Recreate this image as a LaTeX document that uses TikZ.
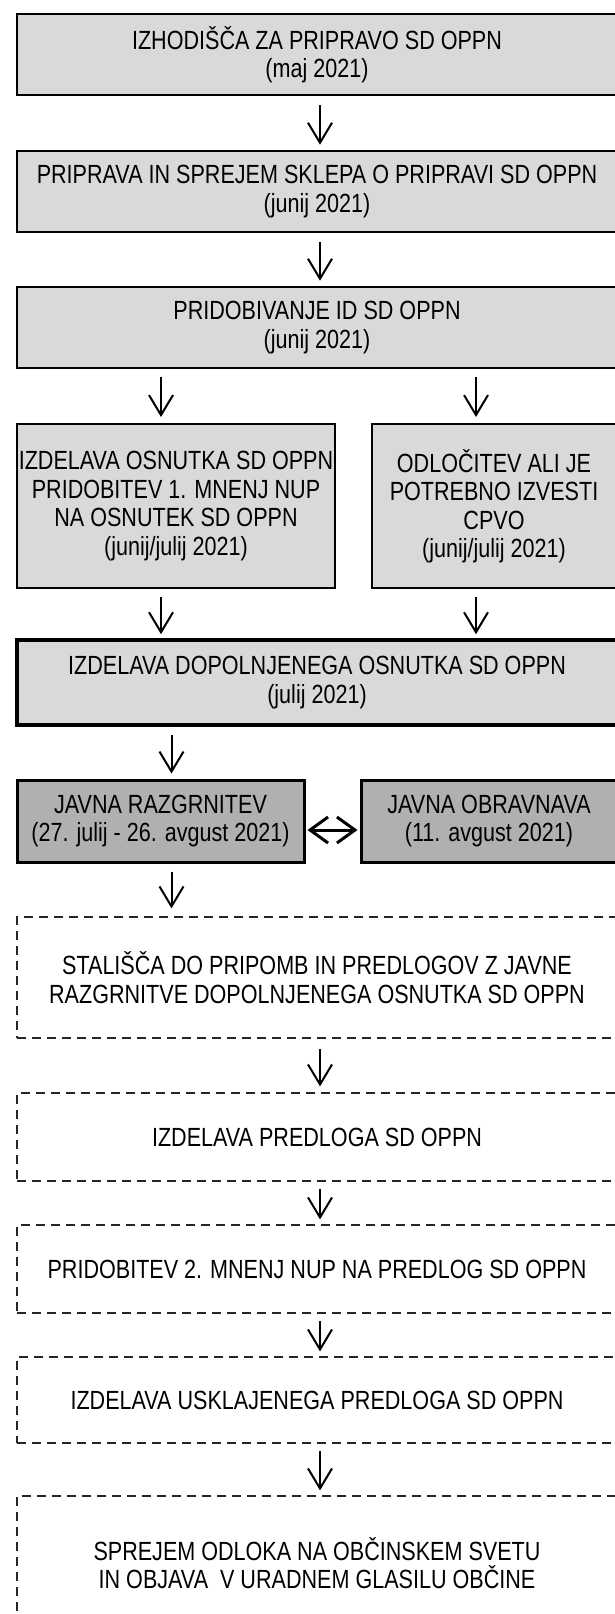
\documentclass[tikz,border=0pt]{standalone}
\usepackage{fontspec}
\setmainfont{Liberation Sans}[FakeStretch=0.82]
\usetikzlibrary{arrows.meta}

\begin{document}
\begin{tikzpicture}[x=1pt,y=-1pt,
	every node/.style={font=\fontsize{26.3}{28.5}\selectfont,align=center,inner sep=0pt},
	box/.style={draw,line width=2.6pt,fill=black!15},
	darkbox/.style={draw,line width=3pt,fill=black!31},
	dbox/.style={draw=black!85,line width=1.2pt,dash pattern=on 9pt off 6pt},
	arr/.style={line width=2pt,-{Straight Barb[length=20pt,width=24pt]}},
	dbl/.style={line width=3pt,{Straight Barb[length=18pt,width=26pt]}-{Straight Barb[length=18pt,width=26pt]}}]
	\useasboundingbox (0,0) rectangle (615,1614);
	\clip (0,0) rectangle (615,1614);
	% solid boxes
	\node[box,minimum width=600pt,minimum height=81pt] (A) at (317,54.5) {IZHODIŠČA ZA PRIPRAVO SD OPPN\\(maj 2021)};
	\node[box,minimum width=600pt,minimum height=81pt] (B) at (317,191.5) {PRIPRAVA IN SPREJEM SKLEPA O PRIPRAVI SD OPPN\\(junij 2021)};
	\node[box,minimum width=600pt,minimum height=81pt] (C) at (317,327.5) {PRIDOBIVANJE ID SD OPPN\\(junij 2021)};
	\node[box,line width=2pt,minimum width=318pt,minimum height=164pt] (D) at (176,506) {IZDELAVA OSNUTKA SD OPPN\\PRIDOBITEV 1. MNENJ NUP\\NA OSNUTEK SD OPPN\\(junij/julij 2021)};
	\node[box,line width=2pt,minimum width=244pt,minimum height=164pt] (E) at (494,506) {ODLOČITEV ALI JE\\POTREBNO IZVESTI\\CPVO\\(junij/julij 2021)};
	\node[box,line width=3.6pt,minimum width=600pt,minimum height=85pt] (F) at (317,682.5) {IZDELAVA DOPOLNJENEGA OSNUTKA SD OPPN\\(julij 2021)};
	\node[darkbox,minimum width=287pt,minimum height=82pt] (G) at (160.5,821) {JAVNA RAZGRNITEV\\(27. julij - 26. avgust 2021)};
	\node[darkbox,minimum width=256pt,minimum height=82pt] (H) at (489,821) {JAVNA OBRAVNAVA\\(11. avgust 2021)};
	% dashed boxes
	\node[dbox,minimum width=600pt,minimum height=121pt] (I) at (317,977.5) {STALIŠČA DO PRIPOMB IN PREDLOGOV Z JAVNE\\RAZGRNITVE DOPOLNJENEGA OSNUTKA SD OPPN};
	\node[dbox,minimum width=600pt,minimum height=88pt] (J) at (317,1137) {IZDELAVA PREDLOGA SD OPPN};
	\node[dbox,minimum width=600pt,minimum height=88pt] (K) at (317,1269) {PRIDOBITEV 2. MNENJ NUP NA PREDLOG SD OPPN};
	\node[dbox,minimum width=600pt,minimum height=86pt] (L) at (317,1400) {IZDELAVA USKLAJENEGA PREDLOGA SD OPPN};
	\node[dbox,minimum width=600pt,minimum height=134pt] (M) at (317,1563) {SPREJEM ODLOKA NA OBČINSKEM SVETU\\IN OBJAVA \ V URADNEM GLASILU OBČINE};
	% arrows
	\draw[arr] ([xshift=3pt,yshift=-9pt]A.south) -- ([xshift=3pt,yshift=5pt]B.north);
	\draw[arr] ([xshift=3pt,yshift=-9pt]B.south) -- ([xshift=3pt,yshift=5pt]C.north);
	\draw[arr] ([xshift=-15pt,yshift=-8pt]C.south -| D.north) -- ([xshift=-15pt,yshift=6pt]D.north);
	\draw[arr] ([xshift=-18pt,yshift=-8pt]C.south -| E.north) -- ([xshift=-18pt,yshift=6pt]E.north);
	\draw[arr] ([xshift=-15pt,yshift=-8pt]D.south) -- ([xshift=-15pt,yshift=4pt]F.north -| D.south);
	\draw[arr] ([xshift=-18pt,yshift=-8pt]E.south) -- ([xshift=-18pt,yshift=4pt]F.north -| E.south);
	\draw[arr] ([xshift=11pt,yshift=-8pt]F.south -| G.north) -- ([xshift=11pt,yshift=5pt]G.north);
	\draw[arr] ([xshift=11pt,yshift=-8pt]G.south) -- ([xshift=11pt,yshift=8pt]G.south |- I.north);
	\draw[dbl] ([xshift=2pt,yshift=-9pt]G.east) -- ([xshift=-2pt,yshift=-9pt]H.west);
	\draw[arr] ([xshift=3pt,yshift=-10pt]I.south) -- ([xshift=3pt,yshift=6pt]J.north);
	\draw[arr] ([xshift=3pt,yshift=-7pt]J.south) -- ([xshift=3pt,yshift=5pt]K.north);
	\draw[arr] ([xshift=3pt,yshift=-7pt]K.south) -- ([xshift=3pt,yshift=5pt]L.north);
	\draw[arr] ([xshift=3pt,yshift=-7pt]L.south) -- ([xshift=3pt,yshift=5pt]M.north);
\end{tikzpicture}
\end{document}
